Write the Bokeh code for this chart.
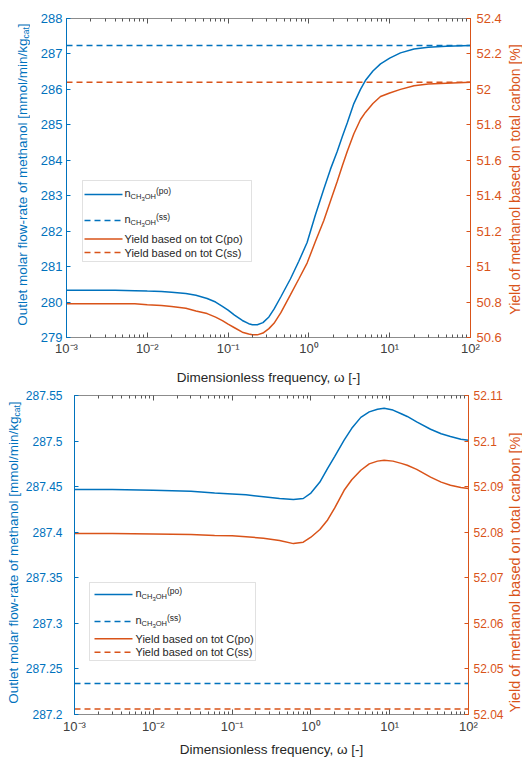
import math
from bokeh.plotting import figure
from bokeh.models import (Range1d, LinearAxis, LogAxis, FixedTicker, Label,
                          BoxAnnotation, Arrow)
from bokeh.layouts import column, row
from bokeh.embed import file_html
from bokeh.resources import INLINE

BLUE = "#0072BD"
ORANGE = "#D95319"
FONT = "Liberation Sans"
GRAY = "#404040"
DARK = "#262626"

# ---------------- data: upper panel ----------------
w_top = [0.001, 0.002, 0.004, 0.007, 0.01, 0.015, 0.02, 0.03, 0.04, 0.055,
         0.07, 0.085, 0.1, 0.12, 0.15, 0.18, 0.2, 0.23, 0.27, 0.32, 0.37,
         0.45, 0.59, 0.75, 0.95, 1.2, 1.53, 1.85, 2.24, 2.6, 2.98, 3.6,
         4.35, 5.0, 6.2, 7.7, 10, 13.6, 20, 30, 50, 100]
n_po_top = [280.33, 280.33, 280.33, 280.32, 280.31, 280.30, 280.28, 280.24,
            280.19, 280.10, 280.00, 279.88, 279.77, 279.63, 279.48, 279.39,
            279.36, 279.36, 279.42, 279.58, 279.80, 280.15, 280.65, 281.15,
            281.68, 282.45, 283.19, 283.75, 284.25, 284.68, 285.05, 285.60,
            286.00, 286.25, 286.52, 286.72, 286.88, 287.03, 287.14, 287.19,
            287.22, 287.24]
yield_po_top = [50.79, 50.79, 50.79, 50.79, 50.785, 50.78, 50.775, 50.765,
                50.75, 50.735, 50.715, 50.695, 50.675, 50.655, 50.63, 50.62,
                50.615, 50.615, 50.625, 50.65, 50.68, 50.74, 50.84, 50.93,
                51.02, 51.14, 51.26, 51.37, 51.48, 51.57, 51.65, 51.75,
                51.83, 51.87, 51.92, 51.96, 51.98, 52.00, 52.02, 52.03,
                52.035, 52.04]
w_ss = [0.001, 100]
n_ss_top = [287.24, 287.24]
yield_ss_top = [52.04, 52.04]

# ---------------- data: lower panel ----------------
w_bot = [0.001, 0.003, 0.01, 0.03, 0.06, 0.1, 0.15, 0.25, 0.4, 0.6, 0.8,
         1.0, 1.3, 1.63, 2.0, 2.64, 3.3, 4.3, 5.5, 7.0, 8.5, 11, 14, 16.7,
         22, 33, 45, 59, 80, 100]
n_po_bot = [287.447, 287.447, 287.446, 287.445, 287.443, 287.442, 287.441,
            287.439, 287.437, 287.436, 287.437, 287.443, 287.455, 287.470,
            287.483, 287.501, 287.514, 287.526, 287.532, 287.535, 287.536,
            287.534, 287.530, 287.527, 287.521, 287.513, 287.508, 287.505,
            287.502, 287.501]
yield_po_bot = [52.0797, 52.0797, 52.0796, 52.0795, 52.0793, 52.0792,
                52.0790, 52.0787, 52.0782, 52.0775, 52.0778, 52.0789,
                52.0806, 52.0827, 52.0853, 52.0892, 52.0915, 52.0936,
                52.0950, 52.0956, 52.0958, 52.0956, 52.0951, 52.0947,
                52.0938, 52.0921, 52.0910, 52.0903, 52.0898, 52.0896]
n_ss_bot = [287.234, 287.234]
yield_ss_bot = [52.0412, 52.0412]

# ---------------- ticks / labels ----------------
x_ticks = [0.001, 0.01, 0.1, 1.0, 10.0, 100.0]
x_tick_labels = ["10\u207b\u00b3", "10\u207b\u00b2", "10\u207b\u00b9",
                 "10\u2070", "10\u00b9", "10\u00b2"]
top_left_ticks = [279, 280, 281, 282, 283, 284, 285, 286, 287, 288]
top_left_labels = ["279", "280", "281", "282", "283", "284", "285", "286",
                   "287", "288"]
top_right_ticks = [50.6, 50.8, 51.0, 51.2, 51.4, 51.6, 51.8, 52.0, 52.2, 52.4]
top_right_labels = ["50.6", "50.8", "51", "51.2", "51.4", "51.6", "51.8",
                    "52", "52.2", "52.4"]
bot_left_ticks = [287.2, 287.25, 287.3, 287.35, 287.4, 287.45, 287.5, 287.55]
bot_left_labels = ["287.2", "287.25", "287.3", "287.35", "287.4", "287.45",
                   "287.5", "287.55"]
bot_right_ticks = [52.04, 52.05, 52.06, 52.07, 52.08, 52.09, 52.1, 52.11]
bot_right_labels = ["52.04", "52.05", "52.06", "52.07", "52.08", "52.09",
                    "52.1", "52.11"]

x_title = "Dimensionless frequency, \u03c9 [-]"
y_title_main = "Outlet molar flow-rate of methanol [mmol/min/kg"
y_title_sub = "cat"
y2_title = "Yield of methanol based on total carbon [%]"
yield_po_label = "Yield based on tot C(po)"
yield_ss_label = "Yield based on tot C(ss)"

ARIAL_W = {'n': .556, 'C': .722, 'H': .722, '3': .556, 'O': .778, '(': .333,
           ')': .333, 'p': .556, 'o': .556, 's': .5}


def tw(s, size):
    return sum(ARIAL_W.get(c, .556) for c in s) * size


def lab(p, x, y, text, size, color, align="left", angle=0.0, yunits="screen"):
    p.add_layout(Label(x=x, y=y, x_units="screen", y_units=yunits,
                       text=text, text_font=FONT,
                       text_font_size=f"{size}px", text_color=color,
                       text_align=align, text_baseline="middle",
                       angle=angle))


def blank_fig(width, height):
    # side strip; its frame follows the neighbouring plot's frame vertically
    f = figure(width=width, height=height, x_range=Range1d(0, 1),
               y_range=Range1d(0, 1), x_axis_location=None,
               y_axis_location=None, output_backend="svg",
               toolbar_location=None, min_border_left=0, min_border_right=0,
               min_border_top=0, min_border_bottom=0)
    f.outline_line_color = None
    f.grid.visible = False
    return f


def make_panel(width, height, bl, br, bt, bb, yl, yr, lt, ll, rt, rl,
               lstand, rstand, xstand, xlab_stand, tick_size):
    p = figure(width=width, height=height, x_axis_type="log",
               x_range=Range1d(1e-3, 1e2), y_range=Range1d(*yl),
               output_backend="svg", toolbar_location=None,
               min_border_left=bl, min_border_right=br,
               min_border_top=bt, min_border_bottom=bb)
    p.grid.visible = False
    p.outline_line_color = "#8c8c8c"
    p.outline_line_width = 1
    p.extra_y_ranges = {"right": Range1d(*yr)}
    minor = [m * 10.0 ** e for e in range(-3, 2) for m in range(2, 10)]
    xt = FixedTicker(ticks=x_ticks, minor_ticks=minor)

    xa = p.xaxis[0]
    xa.ticker = xt
    xa.major_label_overrides = dict(zip(x_ticks, x_tick_labels))
    xa.axis_line_color = "#8c8c8c"
    xa.major_tick_line_color = "#555555"
    xa.minor_tick_line_color = "#555555"
    xa.major_tick_in = 5
    xa.major_tick_out = 0
    xa.minor_tick_in = 3
    xa.minor_tick_out = 0
    xa.major_label_standoff = xstand
    xa.major_label_text_font = FONT
    xa.major_label_text_font_size = "13px"
    xa.major_label_text_color = GRAY
    xa.axis_label = x_title
    xa.axis_label_standoff = xlab_stand
    xa.axis_label_text_font = FONT
    xa.axis_label_text_font_size = "13.5px"
    xa.axis_label_text_font_style = "normal"
    xa.axis_label_text_color = DARK

    ta = LogAxis(ticker=xt, major_label_text_color=None,
                 major_label_text_font_size="1px",
                 major_label_standoff=0, axis_line_color=None,
                 major_tick_line_color="#555555",
                 minor_tick_line_color="#555555",
                 major_tick_in=5, major_tick_out=0,
                 minor_tick_in=3, minor_tick_out=0)
    p.add_layout(ta, "above")

    ya = p.yaxis[0]
    ya.ticker = FixedTicker(ticks=lt)
    ya.major_label_overrides = dict(zip(lt, ll))
    ya.axis_line_color = BLUE
    ya.major_tick_line_color = BLUE
    ya.major_tick_in = 4
    ya.major_tick_out = 0
    ya.minor_tick_line_color = None
    ya.major_label_standoff = lstand
    ya.major_label_text_font = FONT
    ya.major_label_text_font_size = tick_size
    ya.major_label_text_color = BLUE

    ra = LinearAxis(y_range_name="right", ticker=FixedTicker(ticks=rt),
                    major_label_overrides=dict(zip(rt, rl)),
                    axis_line_color=ORANGE, major_tick_line_color=ORANGE,
                    major_tick_in=4, major_tick_out=0,
                    minor_tick_line_color=None,
                    major_label_standoff=rstand,
                    major_label_text_font=FONT,
                    major_label_text_font_size=tick_size,
                    major_label_text_color=ORANGE)
    p.add_layout(ra, "right")
    return p


def add_legend(p, box, rows_y, lx0, lx1, tx):
    left, right, top, bottom = box
    p.add_layout(BoxAnnotation(left=left, right=right, top=top, bottom=bottom,
                               left_units="screen", right_units="screen",
                               top_units="screen", bottom_units="screen",
                               fill_color="white", fill_alpha=1.0,
                               line_color="#9a9a9a", line_width=1))
    styles = [(BLUE, "solid"), (BLUE, "6 4"), (ORANGE, "solid"), (ORANGE, "6 4")]
    for (col, dash), yy in zip(styles, rows_y):
        p.add_layout(Arrow(end=None, x_start=lx0, y_start=yy, x_end=lx1,
                           y_end=yy, start_units="screen", end_units="screen",
                           line_color=col, line_width=1.5, line_dash=dash))
    for tag, yy in (("(po)", rows_y[0]), ("(ss)", rows_y[1])):
        x = tx
        parts = [("n", 11, 1.7), ("CH", 7.5, -2.3), ("3", 6, -4.7),
                 ("OH", 7.5, -2.3), (tag, 8.5, 3.3)]
        for t, s, dy in parts:
            lab(p, x, yy + dy, t, s, DARK)
            x += tw(t, s)
    lab(p, tx, rows_y[2], yield_po_label, 11, DARK)
    lab(p, tx, rows_y[3], yield_ss_label, 11, DARK)


def left_title(f, x, y_end_frac, frame_h):
    # y given as fraction of frame height (data units of the 0..1 strip)
    step = 8.5 * 1.334 / frame_h
    lab(f, x, y_end_frac, y_title_main, 13.5, BLUE, "right", math.pi / 2, "data")
    lab(f, x + 3.5, y_end_frac, y_title_sub, 8.5, BLUE, "left", math.pi / 2, "data")
    lab(f, x, y_end_frac + step, "]", 13.5, BLUE, "left", math.pi / 2, "data")


# ---------------- upper panel ----------------
H1 = 388
p1 = make_panel(476, H1, 36, 36, 18, 51, (279, 288), (50.6, 52.4),
                top_left_ticks, top_left_labels, top_right_ticks,
                top_right_labels, 4, 6, 3, 11, "13px")
p1.line(w_top, n_po_top, line_color=BLUE, line_width=1.5)
p1.line(w_ss, n_ss_top, line_color=BLUE, line_width=1.5, line_dash="6 4")
p1.line(w_top, yield_po_top, line_color=ORANGE, line_width=1.5,
        y_range_name="right")
p1.line(w_ss, yield_ss_top, line_color=ORANGE, line_width=1.5,
        line_dash="6 4", y_range_name="right")
add_legend(p1, (16, 185, 157, 76), [143, 117, 98.5, 85], 18, 56, 58)

t1 = blank_fig(30, H1)
left_title(t1, 22, (337 - 38) / 319, 319)
r1 = blank_fig(16, H1)
lab(r1, 8.5, (337 - 179) / 319, y2_title, 14, ORANGE, "center", math.pi / 2,
    "data")

# ---------------- lower panel ----------------
H2 = 760 - H1
p2 = make_panel(484, H2, 51, 38, 7, 46, (287.2, 287.55), (52.04, 52.11),
                bot_left_ticks, bot_left_labels, bot_right_ticks,
                bot_right_labels, 12, 5, 4, 5, "12px")
p2.line(w_bot, n_po_bot, line_color=BLUE, line_width=1.5)
p2.line(w_ss, n_ss_bot, line_color=BLUE, line_width=1.5, line_dash="6 4")
p2.line(w_bot, yield_po_bot, line_color=ORANGE, line_width=1.5,
        y_range_name="right")
p2.line(w_ss, yield_ss_bot, line_color=ORANGE, line_width=1.5,
        line_dash="6 4", y_range_name="right")
add_legend(p2, (15, 181, 132, 54), [120, 93, 75.7, 62.3], 20, 58, 61)

t2 = blank_fig(22, H2)
left_title(t2, 13.3, (714 - 416) / 319, 319)
r2 = blank_fig(16, H2)
lab(r2, 8, (714 - 572) / 319, y2_title, 14.5, ORANGE, "center", math.pi / 2,
    "data")

layout = column(row(t1, p1, r1), row(t2, p2, r2))
open("out.html", "w").write(file_html(layout, INLINE))
